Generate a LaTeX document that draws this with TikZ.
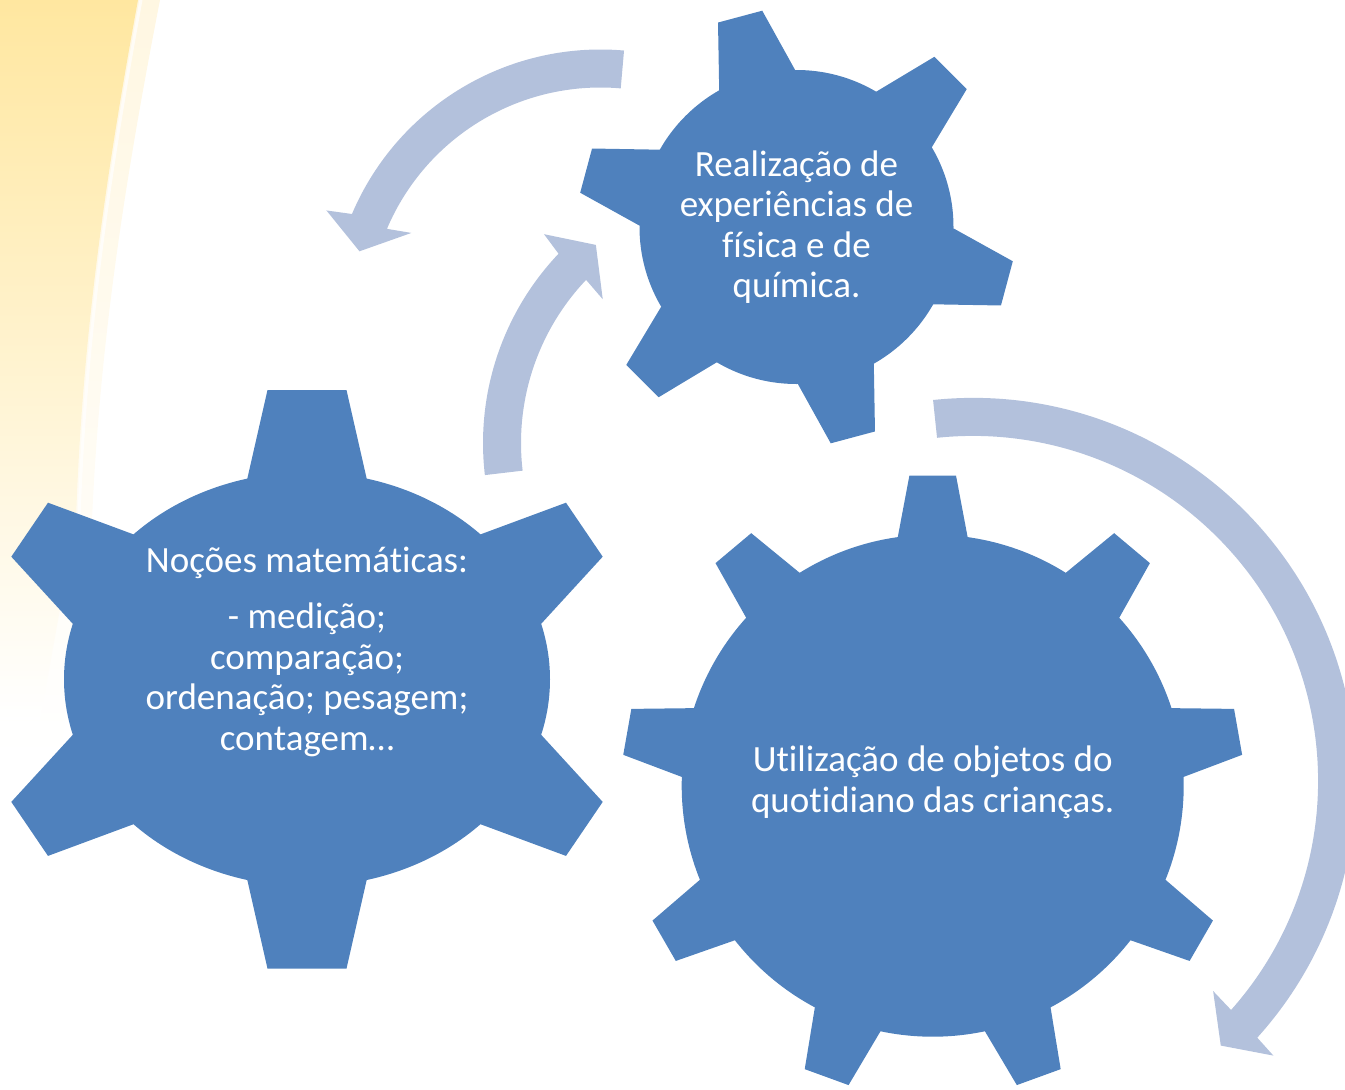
\documentclass[tikz,border=0pt]{standalone}
\usepackage{fontspec}
\setmainfont[Ligatures={NoCommon}]{Carlito}
\definecolor{gearblue}{RGB}{79,129,189}
\definecolor{flowblue}{RGB}{179,193,220}
\definecolor{sunyellow}{RGB}{255,231,160}
\definecolor{sunhalo}{RGB}{255,247,226}

\begin{document}
\begin{tikzpicture}[x=1pt,y=-1pt,
  gear/.style={fill=gearblue},
  flow/.style={fill=flowblue},
  geartext/.style={text=white,align=center,inner sep=0pt,font=\fontsize{37}{40.5}\selectfont}]
\useasboundingbox (0,0) rectangle (1345,1090);

\shade[top color=sunhalo,bottom color=white] (0,0) -- (160,0) .. controls (125,180) and (100,340) .. (92,520) -- (60,760) -- (0,760) -- cycle;
\shade[top color=sunyellow,bottom color=white] (0,0) -- (138,0) .. controls (105,180) and (82,340) .. (76,520) -- (40,720) -- (0,720) -- cycle;
\draw[white,opacity=.7,line width=3pt] (141,0) .. controls (108,180) and (85,340) .. (79,520);

\coordinate (G1) at (796.5,227);
\coordinate (G2) at (307,679.3);
\coordinate (G3) at (932.7,785.7);

\fill[flow,shift={(600.5,319.5)}] (275:270) arc[start angle=275,end angle=203,radius=270] -- (201.7:295) -- (195.8:250.5) -- (204.6:208) -- (203:232) arc[start angle=203,end angle=275,radius=232] -- cycle;
\fill[flow,shift={(758,443)}] (173.3:275) arc[start angle=173.3,end angle=223.5,radius=275] -- (224.3:299) -- (230.7:256) -- (222.8:211.6) -- (223.5:237) arc[start angle=223.5,end angle=173.3,radius=237] -- cycle;
\fill[flow,shift={(973.1,780.9)}] (264:383) arc[start angle=264,end angle=402.1,radius=383] -- (402.45:407) -- (406.9:362.5) -- (401.2:319) -- (401.6:345) arc[start angle=401.6,end angle=264,radius=345] -- cycle;

\fill[gear] (G1) circle[radius=157];
\fill[gear,shift={(G1)}] (0,0) -- (-119.5:157) -- (-111:219) -- (-99:219) -- (-90.5:157) -- cycle;
\fill[gear,shift={(G1)}] (0,0) -- (-59.5:157) -- (-51:219) -- (-39:219) -- (-30.5:157) -- cycle;
\fill[gear,shift={(G1)}] (0,0) -- (0.5:157) -- (9:219) -- (21:219) -- (29.5:157) -- cycle;
\fill[gear,shift={(G1)}] (0,0) -- (60.5:157) -- (69:219) -- (81:219) -- (89.5:157) -- cycle;
\fill[gear,shift={(G1)}] (0,0) -- (120.5:157) -- (129:219) -- (141:219) -- (149.5:157) -- cycle;
\fill[gear,shift={(G1)}] (0,0) -- (180.5:157) -- (189:219) -- (201:219) -- (209.5:157) -- cycle;

\fill[gear] (G2) ellipse[x radius=243,y radius=207];
\fill[gear] (G2) -- (247,480) -- (267.5,390) -- (346.5,390) -- (367,480) -- cycle;
\fill[gear] (G2) -- (480.7,534.3) -- (566,502.7) -- (602.7,556.7) -- (541,624) -- cycle;
\fill[gear] (G2) -- (541,734.6) -- (602.7,801.9) -- (566,855.9) -- (480.7,824.3) -- cycle;
\fill[gear] (G2) -- (367,878.6) -- (346.5,968.6) -- (267.5,968.6) -- (247,878.6) -- cycle;
\fill[gear] (G2) -- (133.3,824.3) -- (48,855.9) -- (11.3,801.9) -- (73,734.6) -- cycle;
\fill[gear] (G2) -- (73,624) -- (11.3,556.7) -- (48,502.7) -- (133.3,534.3) -- cycle;

\fill[gear] (G3) circle[radius=251];
\fill[gear,shift={(G3)}] (0,0) -- (-98:251) -- (-94.3:311) -- (-85.7:311) -- (-82:251) -- cycle;
\fill[gear,shift={(G3)}] (0,0) -- (-58:251) -- (-54.3:311) -- (-45.7:311) -- (-42:251) -- cycle;
\fill[gear,shift={(G3)}] (0,0) -- (-18:251) -- (-14.3:311) -- (-5.7:311) -- (-2:251) -- cycle;
\fill[gear,shift={(G3)}] (0,0) -- (22:251) -- (25.7:311) -- (34.3:311) -- (38:251) -- cycle;
\fill[gear,shift={(G3)}] (0,0) -- (62:251) -- (65.7:311) -- (74.3:311) -- (78:251) -- cycle;
\fill[gear,shift={(G3)}] (0,0) -- (102:251) -- (105.7:311) -- (114.3:311) -- (118:251) -- cycle;
\fill[gear,shift={(G3)}] (0,0) -- (142:251) -- (145.7:311) -- (154.3:311) -- (158:251) -- cycle;
\fill[gear,shift={(G3)}] (0,0) -- (182:251) -- (185.7:311) -- (194.3:311) -- (198:251) -- cycle;
\fill[gear,shift={(G3)}] (0,0) -- (222:251) -- (225.7:311) -- (234.3:311) -- (238:251) -- cycle;

\node[geartext] (T1) at (796.5,227) {Realização de\\experiências de\\física e de\\química.};
\node[geartext] (T2) at (307,651.5) {Noções matemáticas:\\[16pt]- medição;\\comparação;\\ordenação; pesagem;\\contagem…};
\node[geartext] (T3) at (932.7,782.5) {Utilização de objetos do\\quotidiano das crianças.};
\end{tikzpicture}
\end{document}
